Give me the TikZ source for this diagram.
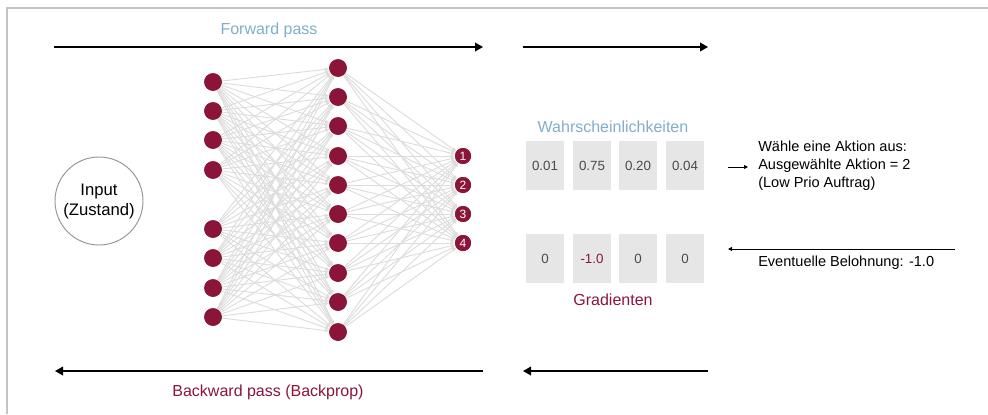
\documentclass[tikz,border=0pt]{standalone}
\usepackage{fontspec}
\setmainfont{Liberation Sans}
\usetikzlibrary{arrows.meta}
\definecolor{crimson}{HTML}{8B1538}
\definecolor{lblue}{HTML}{7FAECB}
\definecolor{edgegrey}{HTML}{DCDCDC}
\definecolor{boxgrey}{HTML}{E6E6E6}
\definecolor{numgrey}{HTML}{4A4A4A}
\definecolor{framegrey}{HTML}{C4C4C4}
\tikzset{
  neuron/.style={circle, fill=crimson, draw=none, minimum size=13.2pt, inner sep=0pt},
  outneuron/.style={circle, fill=crimson, draw=none, minimum size=12pt, inner sep=0pt, text=white, font=\fontsize{9}{10}\selectfont},
  edge/.style={draw=edgegrey, line width=0.7pt, -{Triangle[length=3pt,width=2.6pt]}},
  bigarrow/.style={draw=black, line width=1.1pt, -{Triangle[length=6pt,width=6.5pt]}},
  smallarrow/.style={draw=black, line width=0.7pt, -{Triangle[length=3pt,width=3pt]}},
  probbox/.style={fill=boxgrey, draw=none, minimum width=28.5pt, minimum height=36.75pt, inner sep=0pt, text=numgrey, font=\fontsize{10}{12}\selectfont},
  bluetitle/.style={text=lblue, font=\fontsize{12}{14}\selectfont, inner sep=0pt},
  redtitle/.style={text=crimson, font=\fontsize{12}{14}\selectfont, inner sep=0pt},
  sidetext/.style={text=black, font=\fontsize{10.9}{13.5}\selectfont, inner sep=0pt, anchor=west, align=left},
}
\begin{document}
\begin{tikzpicture}[x=0.75pt,y=-0.75pt]
\useasboundingbox (0,0) rectangle (988,414);
% frame (top and left edges)
\coordinate (fr1) at (988,8);
\coordinate (fr2) at (7,8);
\coordinate (fr3) at (7,414);
\draw[framegrey, line width=1.2pt] (fr1) -- (fr2) -- (fr3);

% titles
\node[bluetitle] (fwd) at (269,30) {Forward pass};
\node[redtitle] (bwd) at (268,392) {Backward pass (Backprop)};
\node[bluetitle] (wahr) at (613,127) {Wahrscheinlichkeiten};
\node[redtitle] (grad) at (613,300) {Gradienten};

% forward / backward arrows
\coordinate (fa1) at (54,47);  \coordinate (fa2) at (483,47);
\coordinate (fb1) at (523,47); \coordinate (fb2) at (708,47);
\coordinate (ba1) at (483,371); \coordinate (ba2) at (55,371);
\coordinate (bb1) at (708,371); \coordinate (bb2) at (523,371);
\draw[bigarrow] (fa1) -- (fa2);
\draw[bigarrow] (fb1) -- (fb2);
\draw[bigarrow] (ba1) -- (ba2);
\draw[bigarrow] (bb1) -- (bb2);

% input
\node[circle, draw=gray!85, line width=0.7pt, minimum size=66pt, inner sep=0pt, align=center,
      font=\fontsize{12.5}{15}\selectfont] (input) at (99,201) {Input\\(Zustand)};

% layer 1
\foreach \i/\y in {1/82,2/111,3/140,4/170,5/229,6/258,7/288,8/317}
  \node[neuron] (a\i) at (213,\y) {};
% layer 2
\foreach \j/\y in {1/68,2/97,3/126,4/156,5/185,6/214,7/243,8/273,9/302,10/332}
  \node[neuron] (b\j) at (338,\y) {};
% output
\foreach \k/\y in {1/156,2/185,3/214,4/243}
  \node[outneuron] (o\k) at (463,\y) {\k};

% edges
\foreach \i in {1,...,8}
  \foreach \j in {1,...,10}
    \draw[edge] (a\i) -- (b\j);
\foreach \j in {1,...,10}
  \foreach \k in {1,...,4}
    \draw[edge] (b\j) -- (o\k);
% redraw neurons on top
\foreach \i/\y in {1/82,2/111,3/140,4/170,5/229,6/258,7/288,8/317}
  \node[neuron] at (213,\y) {};
\foreach \j/\y in {1/68,2/97,3/126,4/156,5/185,6/214,7/243,8/273,9/302,10/332}
  \node[neuron] at (338,\y) {};
\foreach \k/\y in {1/156,2/185,3/214,4/243}
  \node[outneuron] at (463,\y) {\k};

% probability boxes
\node[probbox] (p1) at (545,165.5) {0.01};
\node[probbox] (p2) at (592,165.5) {0.75};
\node[probbox] (p3) at (638,165.5) {0.20};
\node[probbox] (p4) at (685,165.5) {0.04};
% gradient boxes
\node[probbox] (g1) at (545,258.5) {0};
\node[probbox, text=crimson] (g2) at (592,258.5) {-1.0};
\node[probbox] (g3) at (638,258.5) {0};
\node[probbox] (g4) at (685,258.5) {0};

% side texts
\node[sidetext] (aktion) at (758,166) {Wähle eine Aktion aus:\\Ausgewählte Aktion = 2\\(Low Prio Auftrag)};
\node[sidetext] (reward) at (758,263) {Eventuelle Belohnung: -1.0};
\coordinate (sa1) at (728,167); \coordinate (sa2) at (748,167);
\draw[smallarrow] (sa1) -- (sa2);
\coordinate (ra1) at (955,249); \coordinate (ra2) at (728,249);
\draw[smallarrow] (ra1) -- (ra2);
\end{tikzpicture}
\end{document}
